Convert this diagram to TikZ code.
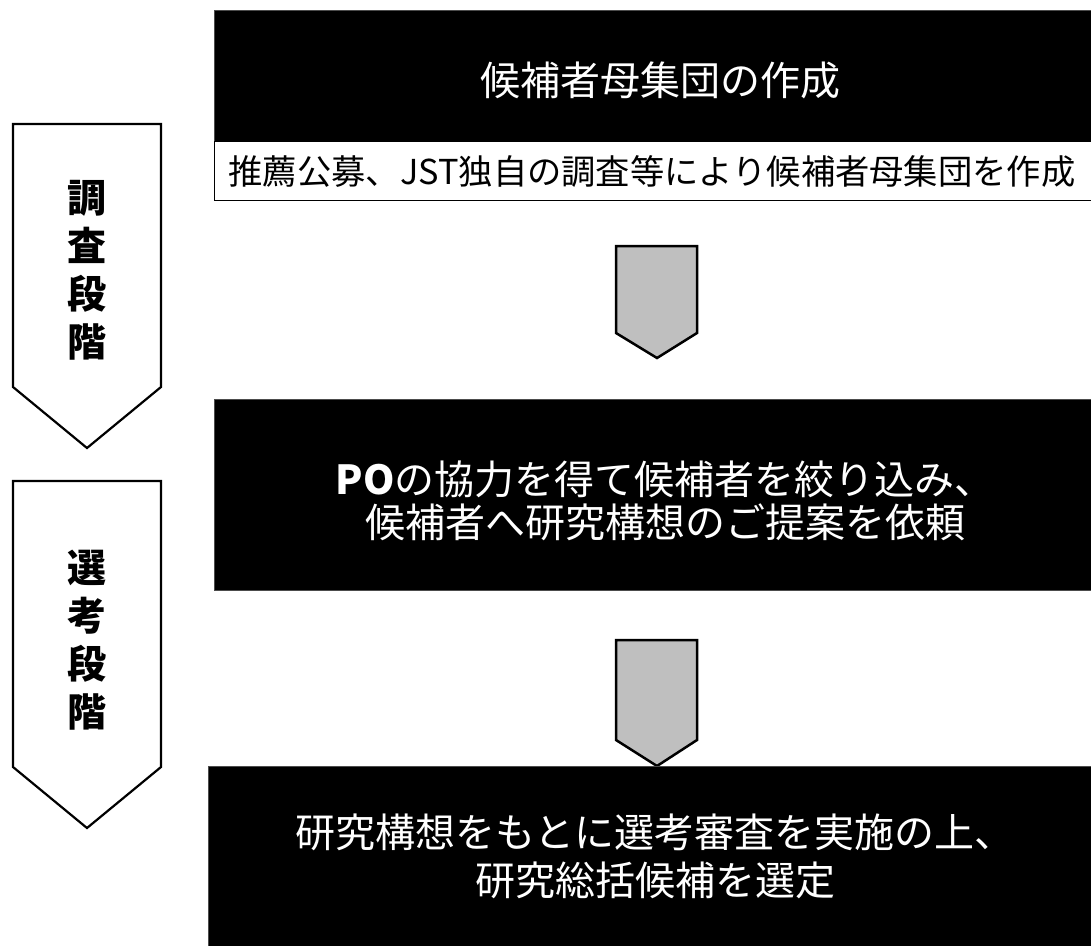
\documentclass[tikz,border=0pt]{standalone}
\usepackage{fontspec}
\setmainfont{Noto Sans CJK JP}
\tikzset{
  blackbox/.style={fill=black, draw=black!70, anchor=north west, inner sep=0pt, text=white, align=center},
  whitebox/.style={fill=white, draw=black, line width=1pt, anchor=north west, inner sep=0pt, align=center},
  phase/.style={draw=black, line width=2.2pt, fill=white, line join=miter},
  flowarrow/.style={draw=black, line width=2.5pt, fill=black!25, line join=miter},
  phaselabel/.style={align=center, font=\bfseries\fontsize{39}{48}\selectfont},
}
\begin{document}
\begin{tikzpicture}[x=1pt,y=-1pt]
\useasboundingbox (0,0) rectangle (1091,945);
% phase arrows on the left
\draw[phase] (13,124) -- (161,124) -- (161,387) -- (87,448) -- (13,387) -- cycle;
\node[phaselabel] (p1) at (87,270) {調\\査\\段\\階};
\draw[phase] (13,481) -- (161,481) -- (161,767) -- (87,828) -- (13,767) -- cycle;
\node[phaselabel] (p2) at (87,640) {選\\考\\段\\階};
% step 1
\node[blackbox, minimum width=880pt, minimum height=131pt] (b1) at (214,10) {};
\node[text=white, font=\fontsize{40}{44}\selectfont] (t1) at (660,80) {候補者母集団の作成};
\node[whitebox, minimum width=880pt, minimum height=59pt] (w1) at (214,141) {};
\node[font=\fontsize{34.3}{38}\selectfont] (t1b) at (652,171) {推薦公募、JST独自の調査等により候補者母集団を作成};
% arrow 1
\draw[flowarrow] (616,246) -- (697,246) -- (697,333) -- (657,358) -- (616,333) -- cycle;
% step 2
\node[blackbox, minimum width=880pt, minimum height=191pt] (b2) at (214,399) {};
\node[text=white, align=center, font=\fontsize{40}{43}\selectfont] (t2) at (665,501) {\textbf{PO}の協力を得て候補者を絞り込み、\\候補者へ研究構想のご提案を依頼};
% arrow 2
\draw[flowarrow] (616,640) -- (697,640) -- (697,740) -- (657,766) -- (616,740) -- cycle;
% step 3
\node[blackbox, minimum width=885pt, minimum height=182pt] (b3) at (208,766) {};
\node[text=white, align=center, font=\fontsize{40}{48}\selectfont] (t3) at (655,856) {研究構想をもとに選考審査を実施の上、\\研究総括候補を選定};
\end{tikzpicture}
\end{document}
